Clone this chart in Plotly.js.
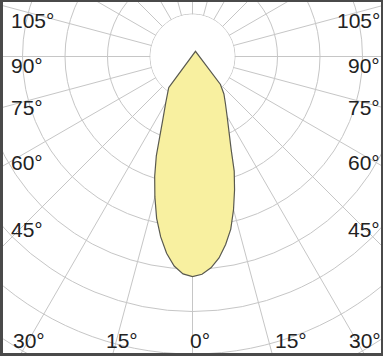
<!DOCTYPE html>
<html><head><meta charset="utf-8">
<script src="https://cdn.plot.ly/plotly-3.0.1.min.js"></script>
<style>
html,body{margin:0;padding:0;background:#fff;}
#frame{position:absolute;left:0;top:0;width:383px;height:356px;background:#4a4a4a;}
#inner{position:absolute;left:3px;top:2px;width:378px;height:351px;overflow:hidden;background:#fff;}
#plot{position:absolute;left:-193px;top:-328px;width:765px;height:765px;}
</style></head>
<body><div id="frame"><div id="inner"><div id="plot"></div></div></div>
<script>
// Luminous intensity (relative units, one ring = 100)
const gammaC0 = [0, 2.5, 5, 7.5, 10, 12.5, 15, 17.5, 20, 22.5, 25, 30, 35, 40, 45];
const intensityC0 = [518, 513, 499, 478, 449, 416, 373, 329, 287, 238, 206, 163, 135, 115, 93];
const gammaC180 = [0, 2.5, 5, 7.5, 10, 12.5, 15, 17.5, 20, 25, 30, 37.5];
const intensityC180 = [518, 512, 495, 467, 431, 390, 342, 296, 249, 166, 126, 92];
const upGamma = [150];
const upIntensity = [14];

const sideLabels = ['105°', '90°', '75°', '60°', '45°'];
const bottomLabels = ['30°', '15°', '0°', '15°', '30°'];

// build closed outline: C180 side (left, negative angles) -> C0 side -> upward lobe
const theta = [], r = [];
for (let i = gammaC180.length - 1; i >= 1; i--) { theta.push(-gammaC180[i]); r.push(intensityC180[i]); }
for (let i = 0; i < gammaC0.length; i++) { theta.push(gammaC0[i]); r.push(intensityC0[i]); }
for (let i = 0; i < upGamma.length; i++) { theta.push(upGamma[i]); r.push(upIntensity[i]); }
theta.push(theta[0]); r.push(r[0]);

// white centre disc (hides the spokes inside the first ring)
const discT = [], discR = [];
for (let a = 0; a <= 360; a += 2) { discT.push(a); discR.push(99); }

const S = 765, divLeft = -190, divTop = -326;
function px(x, y) { return { x: (x - divLeft) / S, y: 1 - (y - divTop) / S }; }

const font = { family: 'Liberation Sans, Arial, sans-serif', size: 21, color: '#222' };
const annotations = [];
const sideY = [21, 66, 107, 163, 229];
sideLabels.forEach((t, i) => {
  const a = px(9, sideY[i]);
  annotations.push({ text: t, x: a.x, y: a.y, xref: 'paper', yref: 'paper', xanchor: 'left', yanchor: 'middle', showarrow: false, font });
  const b = px(382, sideY[i]);
  annotations.push({ text: t, x: b.x, y: b.y, xref: 'paper', yref: 'paper', xanchor: 'right', yanchor: 'middle', showarrow: false, font });
});
const bottomX = [29, 122, 200, 291, 365];
bottomLabels.forEach((t, i) => {
  const a = px(bottomX[i], 340);
  annotations.push({ text: t, x: a.x, y: a.y, xref: 'paper', yref: 'paper', xanchor: 'center', yanchor: 'middle', showarrow: false, font });
});

const grid = '#c6c6c6';
Plotly.newPlot('plot', [
  { type: 'scatterpolar', r: discR, theta: discT, mode: 'lines', fill: 'toself', fillcolor: '#ffffff', line: { width: 0, color: 'rgba(0,0,0,0)' }, hoverinfo: 'skip', showlegend: false },
  { type: 'scatterpolar', r: r, theta: theta, mode: 'lines', fill: 'toself', fillcolor: '#f8f0a0', line: { width: 1.2, color: '#5a5a50' }, hoverinfo: 'skip', showlegend: false }
], {
  width: S, height: S, autosize: false,
  margin: { l: 0, r: 0, t: 0, b: 0, pad: 0 },
  paper_bgcolor: '#ffffff', showlegend: false,
  polar: {
    domain: { x: [0, 1], y: [0, 1] }, bgcolor: '#ffffff',
    radialaxis: { range: [0, 900], tick0: 0, dtick: 100, showticklabels: false, ticks: '', showline: false, gridcolor: grid, gridwidth: 1, layer: 'below traces' },
    angularaxis: { rotation: -90, direction: 'counterclockwise', dtick: 15, showticklabels: false, ticks: '', showline: false, gridcolor: grid, gridwidth: 1, layer: 'below traces' }
  },
  annotations
}, { staticPlot: true, displayModeBar: false });
</script></body></html>
